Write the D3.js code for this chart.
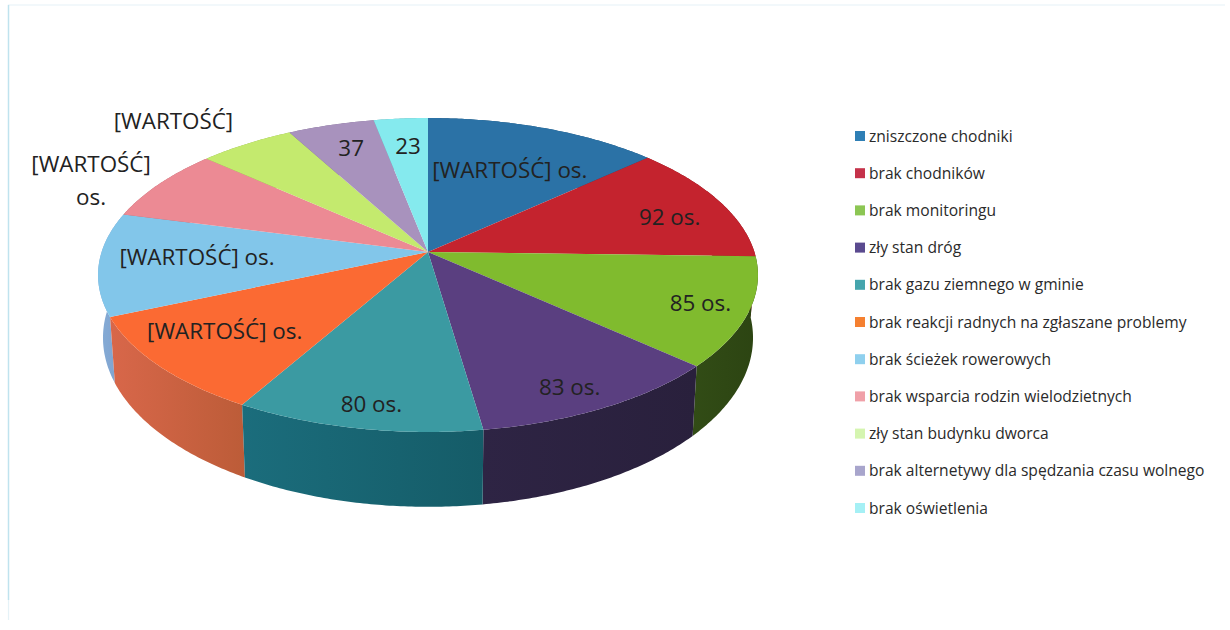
<!DOCTYPE html>
<html><head><meta charset="utf-8">
<script src="https://cdn.jsdelivr.net/npm/d3@7"></script>
<style>html,body{margin:0;padding:0;background:#fff}svg{display:block}</style>
</head><body><svg id="c" width="1230" height="630"></svg>
<script>
// data
const categories = ["zniszczone chodniki","brak chodników","brak monitoringu","zły stan dróg","brak gazu ziemnego w gminie","brak reakcji radnych na zgłaszane problemy","brak ścieżek rowerowych","brak wsparcia rodzin wielodzietnych","zły stan budynku dworca","brak alternetywy dla spędzania czasu wolnego","brak oświetlenia"];
const values = [100,92,85,83,80,77,80,57,41,37,23];
const labels = [["[WARTOŚĆ] os."],["92 os."],["85 os."],["83 os."],["80 os."],["[WARTOŚĆ] os."],["[WARTOŚĆ] os."],["[WARTOŚĆ]","os."],["[WARTOŚĆ]"],["37"],["23"]];
// styles
const topColors = ["#2b72a6","#c4232e","#80bb2e","#5a3f80","#3b9aa2","#fb6a33","#82c6ea","#ec8a94","#c4ea6e","#a892bd","#85eaee"];
const legendColors = ["#2f7fb5","#c5324a","#8cc653","#5a4a8f","#45a5ad","#f58030","#8fd0ee","#f0a0a8","#d5f5b0","#a8a5cc","#a5f0f5"];
const wallStops = [["#1d4f75","#1d4f75"],["#7d1820","#7d1820"],["#324c16","#2c4412"],["#2e2444","#29203c"],["#1b6d7c","#155c68"],["#d8674a","#bc5c38"],["#86acd6","#7c9fcc"],["#b06a70","#b06a70"],["#90aa50","#90aa50"],["#7a6a8c","#7a6a8c"],["#60a8ac","#60a8ac"]];
// label placement: radial fraction and angle shift (degrees) from slice middle
const labelRadius = [.64,.80,.857,.867,.878,.75,.705,1.215,1.319,.795,.769];
const labelShift = [1.3,3.5,0,1.8,-.8,2.4,1.7,-4,-4.1,.6,.4];

const cx=428, cy=252, A=326.4, B=153.6, P=.1465;
function project(t,r){const u=r*Math.sin(t),v=-r*Math.cos(t),d=1-P*v;return [cx+A*u/d,cy+B*v/d];}
function lower(p){return [cx+.985*(p[0]-cx),p[1]+61+.077*(p[1]-cy)];}
function arcPts(a,b){const n=Math.max(2,Math.ceil((b-a)/.01));return d3.range(n+1).map(i=>project(a+(b-a)*i/n,1));}

const svg=d3.select("#c");
const defs=svg.append("defs");
const line=d3.line();
const pie=d3.pie().sort(null).startAngle(0).endAngle(2*Math.PI)(values);
const topColor=d3.scaleOrdinal(categories,topColors);
const legendColor=d3.scaleOrdinal(categories,legendColors);

svg.append("path").attr("d",line([[8.5,620],[8.5,5],[1225,5]])).attr("fill","none").attr("stroke","#cfe8f0").attr("stroke-width",1.2).attr("opacity",.55);
svg.append("path").attr("d",line([[8.5,600],[8.5,5]])).attr("fill","none").attr("stroke","#bfe3ee").attr("stroke-width",1.4);

wallStops.forEach((s,i)=>{const g=defs.append("linearGradient").attr("id","w"+i);
  g.append("stop").attr("offset",0).attr("stop-color",s[0]);
  g.append("stop").attr("offset",1).attr("stop-color",s[1]);});

const order=pie.map((d,i)=>i).sort((a,b)=>Math.abs(Math.PI-(pie[b].startAngle+pie[b].endAngle)/2)-Math.abs(Math.PI-(pie[a].startAngle+pie[a].endAngle)/2));
svg.append("g").selectAll("path").data(order).join("path")
  .attr("d",i=>{const pts=arcPts(pie[i].startAngle,pie[i].endAngle);return line(pts.concat(pts.map(lower).reverse()))+"Z";})
  .attr("fill",i=>`url(#w${i})`);
svg.append("g").selectAll("path").data(pie).join("path")
  .attr("d",d=>line([[cx,cy]].concat(arcPts(d.startAngle,d.endAngle)))+"Z")
  .attr("fill",(d,i)=>topColor(categories[i]));

const lab=svg.append("g").attr("font-family","'Open Sans',sans-serif").attr("font-size",22.4).attr("fill","#222").attr("text-anchor","middle");
pie.forEach((d,i)=>{
  const p=project((d.startAngle+d.endAngle)/2+labelShift[i]*Math.PI/180,labelRadius[i]);
  const t=lab.append("text").attr("x",p[0]).attr("y",p[1]+8-(labels[i].length-1)*16.5);
  labels[i].forEach((s,j)=>t.append("tspan").attr("x",p[0]).attr("dy",j?33:0).text(s));
});

const ly=d3.scalePoint().domain(categories).range([136,508]);
const leg=svg.append("g").attr("font-family","'Open Sans',sans-serif").attr("font-size",15.6).attr("fill","#2a2a2a");
categories.forEach(c=>{
  leg.append("rect").attr("x",855).attr("y",ly(c)-5).attr("width",10).attr("height",10).attr("fill",legendColor(c));
  leg.append("text").attr("x",869).attr("y",ly(c)+5.5).text(c);
});
</script></body></html>
